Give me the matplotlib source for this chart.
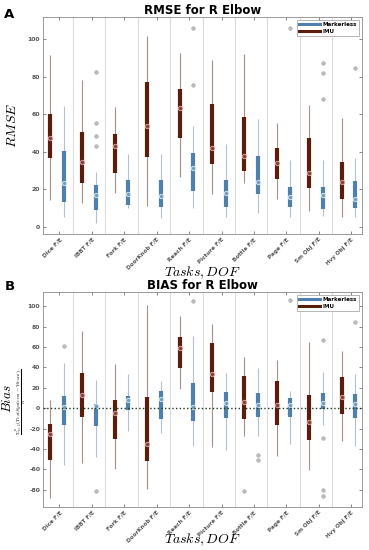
import numpy as np
import matplotlib
matplotlib.use("Agg")
import matplotlib.pyplot as plt
from matplotlib.lines import Line2D

plt.rcParams['mathtext.fontset'] = 'cm'

# Tasks / degrees of freedom
tasks = ['Dice F/E', 'IBBT F/E', 'Fork F/E', 'DoorKnob F/E', 'Reach F/E',
         'Picture F/E', 'Bottle F/E', 'Page F/E', 'Sm Obj F/E', 'Hvy Obj F/E']

# RMSE - IMU (whisker low, q1, median, q3, whisker high)
rmse_imu_lo = [14.4, 12.8, 18.0, 11.2, 26.6, 17.6, 23.4, 14.9, 8.5, 5.3]
rmse_imu_q1 = [36.7, 23.4, 28.7, 37.2, 47.3, 33.5, 29.8, 25.5, 20.7, 14.9]
rmse_imu_med = [47.3, 34.6, 43.0, 53.7, 63.3, 42.0, 37.8, 34.0, 28.7, 23.9]
rmse_imu_q3 = [60.0, 50.5, 49.5, 77.1, 73.4, 65.4, 58.5, 42.0, 47.3, 34.6]
rmse_imu_hi = [91.5, 78.2, 63.8, 102.0, 93.0, 88.8, 92.5, 55.3, 64.9, 58.0]

# RMSE - Markerless
rmse_ml_lo = [5.3, 2.0, 10.0, 4.5, 10.0, 5.3, 7.4, 5.3, 5.9, 5.3]
rmse_ml_q1 = [13.3, 9.0, 11.7, 10.6, 19.1, 10.6, 17.6, 10.6, 9.6, 10.1]
rmse_ml_med = [23.4, 17.0, 17.5, 16.5, 31.4, 18.1, 23.9, 16.0, 17.0, 14.9]
rmse_ml_q3 = [40.4, 22.3, 25.0, 25.0, 39.4, 25.0, 37.8, 21.3, 21.3, 24.5]
rmse_ml_hi = [64.4, 29.3, 39.0, 39.0, 53.7, 44.1, 57.4, 35.6, 35.6, 36.7]
rmse_ml_out = [[], [82.4, 55.3, 48.4, 43.1], [], [], [106.4, 75.5],
               [], [], [106.4], [87.2, 81.9, 68.1], [85.0]]

# BIAS - IMU
bias_imu_lo = [-88.0, -53.5, -60.0, -79.8, 18.4, -38.0, -27.3, -47.0, -61.0, -32.2]
bias_imu_q1 = [-50.6, -8.5, -29.9, -51.9, 39.0, 15.4, -10.2, -16.7, -30.9, -5.3]
bias_imu_med = [-25.0, 12.8, -4.3, -35.5, 59.4, 33.2, 6.2, 3.0, -13.5, 10.5]
bias_imu_q3 = [-15.8, 34.0, 7.9, 11.2, 69.6, 63.7, 31.5, 26.6, 12.8, 30.2]
bias_imu_hi = [7.9, 76.0, 43.3, 101.5, 90.6, 82.8, 50.6, 47.3, 64.4, 56.5]
bias_imu_out = [[], [], [], [], [], [], [-81.8], [], [], []]

# BIAS - Markerless
bias_ml_lo = [-56.0, -48.0, -22.3, -24.3, -37.0, -41.4, -27.3, -35.5, -16.7, -37.0]
bias_ml_q1 = [-16.7, -17.7, -2.0, -10.2, -12.8, -9.2, -8.5, -8.5, -1.3, -9.2]
bias_ml_med = [0.7, 2.0, 7.9, 8.5, 0.7, 4.6, 3.0, 3.0, 5.3, 3.6]
bias_ml_q3 = [11.8, 3.9, 11.8, 16.7, 25.0, 15.4, 14.4, 10.2, 14.4, 13.5]
bias_ml_hi = [44.7, 27.6, 33.5, 27.0, 71.0, 34.2, 39.0, 17.0, 35.5, 33.2]
bias_ml_out = [[61.0], [-81.8], [], [], [104.8], [], [-45.6, -50.6], [105.7],
               [67.0, -29.2, -80.8, -86.4], [84.4]]

IMU_COL = '#5a1d0c'
IMU_WHISK = '#a89088'
IMU_MED = '#e8a7a3'
ML_COL = '#4f7fab'
ML_WHISK = '#b4c0cc'
ML_MED = '#d8ecf2'

GROUP_STEP = 2.4
n = len(tasks)
pos_imu = np.arange(n) * GROUP_STEP
pos_ml = pos_imu + 1.0
tick_pos = pos_imu + 0.7
sep_pos = pos_imu[:-1] + 1.7


def draw_compact(ax, pos, lo, q1, med, q3, hi, col, wcol, mcol, outliers=None):
    ax.vlines(pos, lo, hi, color=wcol, lw=0.8, zorder=2)
    ax.vlines(pos, q1, q3, color=col, lw=3.0, zorder=3)
    ax.plot(pos, med, 'o', ms=3.2, mfc=mcol, mec=mcol, mew=0.6, zorder=4)
    ax.plot(pos, med, 'o', ms=1.6, mfc=col, mec=col, zorder=5, alpha=0.6)
    if outliers:
        for p, vals in zip(pos, outliers):
            if vals:
                ax.plot([p] * len(vals), vals, 'o', ms=2.6, mfc='#bdbdbd',
                        mec='#a8a8a8', mew=0.4, zorder=4)


def style_axes(ax, ylim, yticks):
    ax.set_xlim(-0.52, pos_ml[-1] + 0.5)
    ax.set_ylim(*ylim)
    for s in sep_pos:
        ax.axvline(s, color='#dcdcdc', lw=0.8, zorder=1)
    ax.set_xticks(tick_pos)
    ax.set_xticklabels(tasks, rotation=45, ha='right', va='top',
                       rotation_mode='anchor', fontsize=4.1, fontweight='bold',
                       color='#333333')
    ax.set_yticks(yticks)
    ax.set_yticklabels([str(v) for v in yticks], fontsize=4.4,
                       fontweight='bold', color='#333333')
    ax.tick_params(direction='in', length=2, width=0.5, top=True, right=True,
                   pad=2, colors='#555555')
    for sp in ax.spines.values():
        sp.set_color('#8a8a8a')
        sp.set_linewidth(0.6)
    handles = [Line2D([0], [0], color=ML_COL, lw=2.2),
               Line2D([0], [0], color=IMU_COL, lw=2.2)]
    leg = ax.legend(handles, ['Markerless', 'IMU'], loc='upper right',
                    prop={'size': 4.0, 'weight': 'bold'}, handlelength=3.8,
                    borderaxespad=0.5, fancybox=False, framealpha=1,
                    labelspacing=0.3, handletextpad=0.4, borderpad=0.4)
    leg.get_frame().set_edgecolor('#999999')
    leg.get_frame().set_linewidth(0.5)


fig = plt.figure(figsize=(3.69, 5.5), dpi=100)
ax1 = fig.add_axes([0.1165, 0.5745, 0.8645, 0.3945])
ax2 = fig.add_axes([0.1165, 0.0782, 0.8645, 0.391])

# Panel A: RMSE
draw_compact(ax1, pos_imu, rmse_imu_lo, rmse_imu_q1, rmse_imu_med, rmse_imu_q3,
             rmse_imu_hi, IMU_COL, IMU_WHISK, IMU_MED)
draw_compact(ax1, pos_ml, rmse_ml_lo, rmse_ml_q1, rmse_ml_med, rmse_ml_q3,
             rmse_ml_hi, ML_COL, ML_WHISK, ML_MED, rmse_ml_out)
style_axes(ax1, (-4, 112), [0, 20, 40, 60, 80, 100])
ax1.set_title('RMSE for R Elbow', fontsize=8.5, fontweight='bold', pad=2)
ax1.set_ylabel(r'$RMSE$', fontsize=10)
ax1.yaxis.set_label_coords(-0.075, 0.5)
ax1.set_xlabel(r'$Tasks, DOF$', fontsize=10, va='center')
ax1.xaxis.set_label_coords(0.5, -0.178)

# Panel B: BIAS
ax2.axhline(0, color='#1c3a1c', lw=1.0, ls=':', zorder=6)
draw_compact(ax2, pos_imu, bias_imu_lo, bias_imu_q1, bias_imu_med, bias_imu_q3,
             bias_imu_hi, IMU_COL, IMU_WHISK, IMU_MED, bias_imu_out)
draw_compact(ax2, pos_ml, bias_ml_lo, bias_ml_q1, bias_ml_med, bias_ml_q3,
             bias_ml_hi, ML_COL, ML_WHISK, ML_MED, bias_ml_out)
style_axes(ax2, (-97, 114), [-80, -60, -40, -20, 0, 20, 40, 60, 80, 100])
ax2.set_title('BIAS for R Elbow', fontsize=8.5, fontweight='bold', pad=2)
ax2.set_xlabel(r'$Tasks, DOF$', fontsize=10, va='center')
ax2.xaxis.set_label_coords(0.5, -0.155)
fig.text(7.5 / 369, 1 - 398 / 550, r'$Bias$', rotation=90, fontsize=9.5,
         ha='center', va='center')
fig.text(22 / 369, 1 - 402 / 550,
         r'$\frac{\Sigma_{i=1}^{n}(TestSystem_i - Vicon_i)}{n}$',
         rotation=90, fontsize=5.4, ha='center', va='center')

fig.text(0.012, 1 - 14 / 550, 'A', fontsize=9.5, fontweight='bold', va='center')
fig.text(0.012, 1 - 287 / 550, 'B', fontsize=9.5, fontweight='bold', va='center')

fig.savefig('out.png', dpi=100)
